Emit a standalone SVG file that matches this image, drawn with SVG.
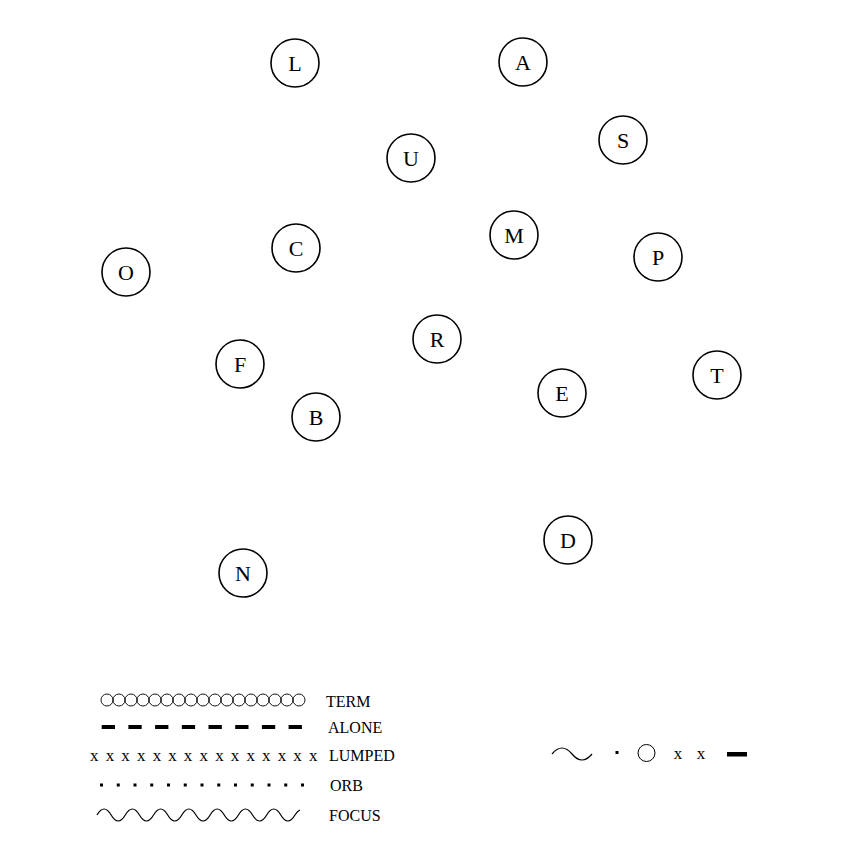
<svg xmlns="http://www.w3.org/2000/svg" width="864" height="864" viewBox="0 0 864 864">
<style>
.n circle{fill:#fff;stroke:#000;stroke-width:1.6}
.n text{font-family:"Liberation Serif","DejaVu Serif",serif;font-size:22px;text-anchor:middle;fill:#000}
.lab{font-family:"Liberation Serif","DejaVu Serif",serif;font-size:16px;fill:#000}
.xm{font-family:"Liberation Serif","DejaVu Serif",serif;font-size:17px;fill:#000;text-anchor:middle}
.ln{fill:none;stroke:#000;stroke-width:1.2}
</style>
<rect width="864" height="864" fill="#fff"/>
<g id="nodes">
<g id="L" class="n"><circle cx="295" cy="63" r="24"/><text x="295" y="71">L</text></g>
<g id="A" class="n"><circle cx="523" cy="62" r="24"/><text x="523" y="70">A</text></g>
<g id="S" class="n"><circle cx="623" cy="140" r="24"/><text x="623" y="148">S</text></g>
<g id="U" class="n"><circle cx="411" cy="158" r="24"/><text x="411" y="166">U</text></g>
<g id="C" class="n"><circle cx="296" cy="248" r="24"/><text x="296" y="256">C</text></g>
<g id="M" class="n"><circle cx="514" cy="235" r="24"/><text x="514" y="243">M</text></g>
<g id="P" class="n"><circle cx="658" cy="257" r="24"/><text x="658" y="265">P</text></g>
<g id="O" class="n"><circle cx="126" cy="272" r="24"/><text x="126" y="280">O</text></g>
<g id="R" class="n"><circle cx="437" cy="339" r="24"/><text x="437" y="347">R</text></g>
<g id="F" class="n"><circle cx="240" cy="364" r="24"/><text x="240" y="372">F</text></g>
<g id="T" class="n"><circle cx="717" cy="375" r="24"/><text x="717" y="383">T</text></g>
<g id="E" class="n"><circle cx="562" cy="393" r="24"/><text x="562" y="401">E</text></g>
<g id="B" class="n"><circle cx="316" cy="417" r="24"/><text x="316" y="425">B</text></g>
<g id="D" class="n"><circle cx="568" cy="540" r="24"/><text x="568" y="548">D</text></g>
<g id="N" class="n"><circle cx="243" cy="573" r="24"/><text x="243" y="581">N</text></g>
</g>
<g id="connectors"></g>
<g id="legend">
<g id="leg-term" fill="none" stroke="#000" stroke-width="0.9">
<circle cx="107" cy="700" r="6"/><circle cx="119" cy="700" r="6"/><circle cx="131" cy="700" r="6"/><circle cx="143" cy="700" r="6"/><circle cx="155" cy="700" r="6"/><circle cx="167" cy="700" r="6"/><circle cx="179" cy="700" r="6"/><circle cx="191" cy="700" r="6"/><circle cx="203" cy="700" r="6"/><circle cx="215" cy="700" r="6"/><circle cx="227" cy="700" r="6"/><circle cx="239" cy="700" r="6"/><circle cx="251" cy="700" r="6"/><circle cx="263" cy="700" r="6"/><circle cx="275" cy="700" r="6"/><circle cx="287" cy="700" r="6"/><circle cx="299" cy="700" r="6"/>
</g>
<path id="leg-alone" d="M101.7,727 H303" stroke="#000" stroke-width="4" stroke-dasharray="13.3 13.4" fill="none"/>
<g id="leg-lumped" class="xm">
<text x="94.3" y="761">x</text><text x="110" y="761">x</text><text x="125.6" y="761">x</text><text x="141.2" y="761">x</text><text x="156.9" y="761">x</text><text x="172.5" y="761">x</text><text x="188.1" y="761">x</text><text x="203.8" y="761">x</text><text x="219.4" y="761">x</text><text x="235" y="761">x</text><text x="250.7" y="761">x</text><text x="266.3" y="761">x</text><text x="281.9" y="761">x</text><text x="297.6" y="761">x</text><text x="313.2" y="761">x</text>
</g>
<path id="leg-orb" d="M100,785 H304" stroke="#000" stroke-width="3" stroke-dasharray="3 13.75" fill="none"/>
<path id="leg-focus" class="ln" d="M97,815 q7.07,-12 14.14,0 t14.14,0 t14.14,0 t14.14,0 t14.14,0 t14.14,0 t14.14,0 t14.14,0 t14.14,0 t14.14,0 t14.14,0 t14.14,0 t14.14,0 t14.14,0 q2.5,-4 5,-5"/>
<text class="lab" x="326" y="707">TERM</text>
<text class="lab" x="328" y="733">ALONE</text>
<text class="lab" x="329" y="761">LUMPED</text>
<text class="lab" x="330" y="791">ORB</text>
<text class="lab" x="329" y="821">FOCUS</text>
</g>
<g id="symbols">
<path class="ln" d="M552,754 q10,-12 20,0 t20,0"/>
<rect x="615.5" y="751" width="3" height="3" fill="#000"/>
<circle cx="646.5" cy="753" r="8.5" fill="none" stroke="#000" stroke-width="1"/>
<text class="xm" x="678" y="759">x</text>
<text class="xm" x="701" y="759">x</text>
<rect x="727" y="752" width="20" height="4.5" fill="#000"/>
</g>
</svg>
